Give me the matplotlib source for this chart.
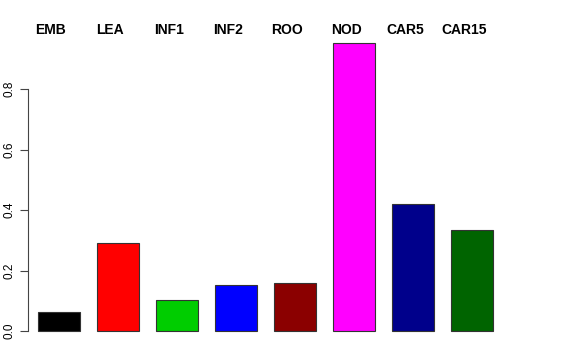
import matplotlib
matplotlib.use("Agg")
import matplotlib.pyplot as plt
import matplotlib.transforms as mtransforms

labels = ["EMB", "LEA", "INF1", "INF2", "ROO", "NOD", "CAR5", "CAR15"]
values = [0.063, 0.291, 0.102, 0.152, 0.159, 0.952, 0.420, 0.334]
colors = ["#000000", "#ff0000", "#00cd00", "#0000ff", "#8b0000", "#ff00ff", "#00008b", "#006400"]
yticks = [0.0, 0.2, 0.4, 0.6, 0.8]

plt.rcParams['font.family'] = ['Liberation Sans', 'DejaVu Sans']

W, H = 576, 360
fig = plt.figure(figsize=(W / 100, H / 100), dpi=100)

# pixel layout
y0, ppu = 331, 302.5
vbot, vtop = -0.04, 0.98
left_px, right_px = 28, 540
x0, step = 59, 59
ax = fig.add_axes([left_px / W, (H - (y0 - ppu * vbot)) / H,
                   (right_px - left_px) / W, (ppu * (vtop - vbot)) / H])

x = list(range(len(values)))
ax.bar(x, values, width=42 / 59, color=colors, edgecolor="#333333", linewidth=0.8)
ax.set_xlim((left_px - x0) / step, (right_px - x0) / step)
ax.set_ylim(vbot, vtop)

for s in ["top", "right", "bottom"]:
    ax.spines[s].set_visible(False)
ax.spines["left"].set_bounds(0, 0.8)
ax.spines["left"].set_color("#444444")
ax.set_xticks([])
ax.set_yticks(yticks)
ax.set_yticklabels(["%.1f" % t for t in yticks], rotation=90, va="center", fontsize=8.5)
ax.tick_params(axis="y", length=6, color="#444444", pad=3)

# header labels: centred a few pixels left of each bar
trans = mtransforms.blended_transform_factory(ax.transData, fig.transFigure)
shift = mtransforms.ScaledTranslation(-8 / 100, 0, fig.dpi_scale_trans)
for i, lab in enumerate(labels):
    ax.text(i, (H - 30) / H, lab, transform=trans + shift, ha="center", va="center",
            fontsize=10, fontweight="bold", clip_on=False)

fig.savefig("out.png", dpi=100)
